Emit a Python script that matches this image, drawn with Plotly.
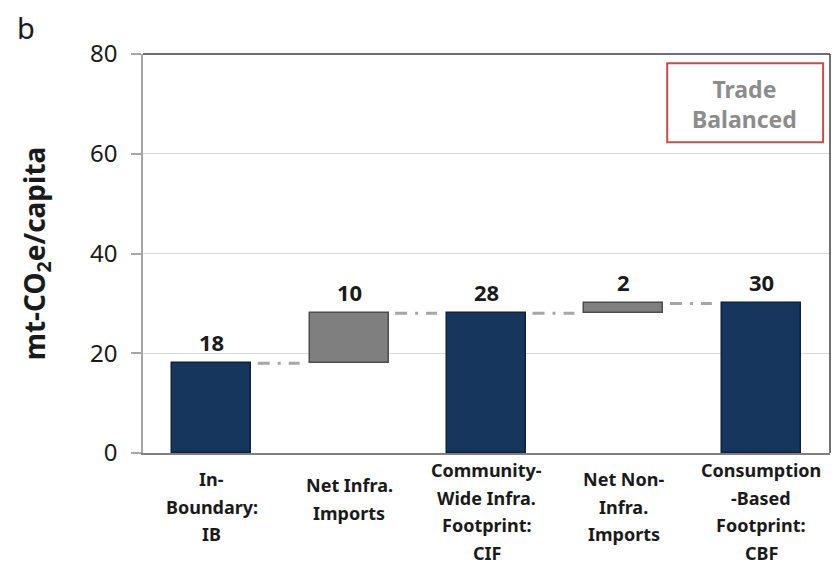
import plotly.graph_objects as go

categories = ["In-<br>Boundary:<br>IB", "Net Infra.<br>Imports",
              "Community-<br>Wide Infra.<br>Footprint:<br>CIF",
              "Net Non-<br>Infra.<br>Imports",
              "Consumption<br>-Based<br>Footprint:<br>CBF"]
values = [18, 10, 28, 2, 30]
measures = ["absolute", "relative", "total", "relative", "total"]
y_ticks = [0, 20, 40, 60, 80]

NAVY = "#17365d"
GRAY = "#7f7f7f"

# compute bases / tops
bases, tops = [], []
running = 0
for v, m in zip(values, measures):
    if m == "relative":
        bases.append(running)
        running += v
    else:
        bases.append(0)
        running = v
    tops.append(running)

xs = list(range(len(categories)))
colors = [GRAY if m == "relative" else NAVY for m in measures]
lines = ["#4d4d4d" if m == "relative" else "#0d2240" for m in measures]
heights = [t - b for t, b in zip(tops, bases)]

fig = go.Figure()
fig.add_trace(go.Bar(x=xs, y=heights, base=bases, width=0.575,
                     marker=dict(color=colors, line=dict(color=lines, width=1.5)),
                     hoverinfo="skip", showlegend=False))

# connectors
for i in range(len(xs) - 1):
    fig.add_trace(go.Scatter(x=[i + 0.335, i + 1 - 0.36], y=[tops[i], tops[i]],
                             mode="lines",
                             line=dict(color="#a6a6a6", width=3, dash="12px,8px,3px,8px"),
                             hoverinfo="skip", showlegend=False))

annotations = []
# value labels
for i, (v, t) in enumerate(zip(values, tops)):
    annotations.append(dict(x=i, y=t, xref="x", yref="y", text=f"<b>{v}</b>",
                            showarrow=False, yanchor="bottom", yshift=4,
                            font=dict(size=22, color="#1a1a1a", family="Noto Sans")))

# category labels, one annotation per line
first_offset = {2: 32, 3: 26, 4: 17}
for i, lab in enumerate(categories):
    parts = lab.split("<br>")
    first = first_offset[len(parts)]
    for j, p in enumerate(parts):
        annotations.append(dict(x=i, y=0, xref="x", yref="y", text=f"<b>{p}</b>",
                                showarrow=False, yanchor="middle", xanchor="center",
                                yshift=-(first + j * 27.5),
                                font=dict(size=18, color="#1a1a1a", family="Noto Sans")))

# panel letter
annotations.append(dict(x=(15 - 143) / 687, y=1 + (54 - 6) / 399, xref="paper", yref="paper",
                        xanchor="left", yanchor="top", showarrow=False, text="b",
                        font=dict(size=29, color="#1a1a1a", family="Noto Sans")))

# trade balanced box text
annotations.append(dict(x=0.876, y=0.875, xref="paper", yref="paper",
                        xanchor="center", yanchor="middle",
                        text="<b>Trade<br>Balanced</b>", showarrow=False,
                        font=dict(size=23, color="#8c8c8c", family="Noto Sans")))

shapes = [
    dict(type="rect", xref="paper", yref="paper", x0=0.763, x1=0.990, y0=0.779, y1=0.977,
         line=dict(color="#c0504d", width=2), fillcolor="rgba(0,0,0,0)"),
    dict(type="line", xref="paper", yref="paper", x0=0, x1=1, y0=1, y1=1,
         line=dict(color="#404040", width=1.5)),
    dict(type="line", xref="paper", yref="paper", x0=1, x1=1, y0=0, y1=1,
         line=dict(color="#404040", width=1.5)),
]

fig.update_layout(
    width=836, height=565,
    margin=dict(l=143, r=6, t=54, b=112),
    paper_bgcolor="white", plot_bgcolor="white",
    font=dict(family="Noto Sans", color="#1a1a1a"),
    annotations=annotations, shapes=shapes,
    bargap=0,
)
fig.update_xaxes(range=[-0.5, 4.5], showticklabels=False, showgrid=False,
                 zeroline=False, showline=True, linecolor="#7f7f7f", linewidth=2,
                 ticks="")
fig.update_yaxes(range=[0, 80], tickvals=y_ticks, ticktext=[str(t) for t in y_ticks],
                 tickfont=dict(size=24, color="#1a1a1a"), ticklabelstandoff=9,
                 showgrid=True, gridcolor="#d9d9d9", gridwidth=1,
                 zeroline=False, showline=True, linecolor="#a6a6a6", linewidth=1.5,
                 ticks="outside", ticklen=10, tickcolor="#a6a6a6", tickwidth=1.5,
                 title=dict(text="<b>mt-CO<sub>2</sub>e/capita</b>",
                            font=dict(size=28, color="#1a1a1a"), standoff=36))

fig.write_html("out.html")
